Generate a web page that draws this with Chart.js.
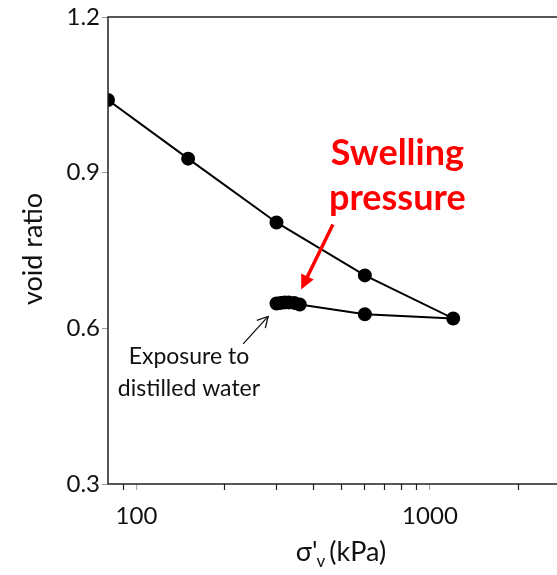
<!DOCTYPE html>
<html>
<head>
<meta charset="utf-8">
<script src="https://cdn.jsdelivr.net/npm/chart.js@4"></script>
<style>
  html, body { margin: 0; padding: 0; background: #fff; overflow: hidden; }
  #wrap { width: 582px; height: 575px; }
</style>
</head>
<body>
<div id="wrap"><canvas id="oedChart" width="582" height="575"></canvas></div>
<script>
// Datos (curva edometrica)
const stress = [80, 150, 300, 600, 1200, 600, 360, 345, 330, 320, 310, 300];
const voidRatio = [1.04, 0.927, 0.804, 0.702, 0.619, 0.627, 0.646, 0.649, 0.650, 0.650, 0.649, 0.648];
const xTicks = [90, 100, 200, 300, 400, 500, 600, 700, 800, 900, 1000, 2000, 3000];
const xLabels = [100, 1000];
const yTicks = [0.3, 0.6, 0.9, 1.2];

const FONT = 'Lato, "Open Sans", sans-serif';

// Marco, titulos y anotaciones
const decor = {
    id: 'decor',
    afterDraw(chart) {
        const c = chart.ctx;
        const a = chart.chartArea;
        const xs = chart.scales.x, ys = chart.scales.y;
        c.save();
        c.strokeStyle = '#222';
        c.lineWidth = 1.5;
        c.beginPath();
        c.moveTo(a.right, a.top);
        c.lineTo(a.left, a.top);
        c.lineTo(a.left, a.bottom);
        c.lineTo(a.right, a.bottom);
        c.stroke();

        // titulo eje y
        c.fillStyle = '#111';
        c.font = '27px ' + FONT;
        c.textAlign = 'center';
        c.textBaseline = 'middle';
        c.save();
        c.translate(33, 249);
        c.rotate(-Math.PI / 2);
        c.fillText('void ratio', 0, 0);
        c.restore();

        // titulo eje x con subindice
        const tx = 341, ty = 552;
        c.textAlign = 'left';
        const p1 = "\u03C3'", p2 = 'v', p3 = '(kPa)';
        c.font = '27px ' + FONT;
        const w1 = c.measureText(p1).width;
        c.font = '17px ' + FONT;
        const w2 = c.measureText(p2).width;
        c.font = '27px ' + FONT;
        const w3 = c.measureText(p3).width;
        let x0 = tx - (w1 + w2 + 3 + w3) / 2;
        c.fillText(p1, x0, ty);
        c.font = '17px ' + FONT;
        c.fillText(p2, x0 + w1 - 1, ty + 10);
        c.font = '27px ' + FONT;
        c.fillText(p3, x0 + w1 + w2 + 3, ty);

        // texto rojo
        c.fillStyle = '#ff0000';
        c.font = 'bold 36px ' + FONT;
        c.textAlign = 'center';
        c.fillText('Swelling', xs.getPixelForValue(774), ys.getPixelForValue(0.938));
        c.fillText('pressure', xs.getPixelForValue(774), ys.getPixelForValue(0.85));

        // flecha roja
        arrow(c, xs.getPixelForValue(467), ys.getPixelForValue(0.8),
              xs.getPixelForValue(364), ys.getPixelForValue(0.675), '#ff0000', 3.5, true);

        // texto negro
        c.fillStyle = '#111';
        c.font = '23px ' + FONT;
        c.fillText('Exposure to', xs.getPixelForValue(151), ys.getPixelForValue(0.545));
        c.fillText('distilled water', xs.getPixelForValue(151), ys.getPixelForValue(0.484));

        arrow(c, xs.getPixelForValue(231), ys.getPixelForValue(0.57),
              xs.getPixelForValue(281), ys.getPixelForValue(0.623), '#111', 1.3, false);
        c.restore();
    }
};

function arrow(c, x1, y1, x2, y2, col, lw, filled) {
    const ang = Math.atan2(y2 - y1, x2 - x1);
    c.save();
    c.strokeStyle = col;
    c.fillStyle = col;
    c.lineWidth = lw;
    const hl = filled ? 16 : 12;
    const hw = filled ? 0.45 : 0.5;
    c.beginPath();
    c.moveTo(x1, y1);
    c.lineTo(filled ? x2 - Math.cos(ang) * hl * 0.8 : x2, filled ? y2 - Math.sin(ang) * hl * 0.8 : y2);
    c.stroke();
    c.beginPath();
    c.moveTo(x2 - hl * Math.cos(ang - hw), y2 - hl * Math.sin(ang - hw));
    c.lineTo(x2, y2);
    c.lineTo(x2 - hl * Math.cos(ang + hw), y2 - hl * Math.sin(ang + hw));
    if (filled) { c.closePath(); c.fill(); } else { c.stroke(); }
    c.restore();
}

const ctx = document.getElementById('oedChart').getContext('2d');
new Chart(ctx, {
    type: 'scatter',
    data: {
        datasets: [{
            data: stress.map((s, i) => ({ x: s, y: voidRatio[i] })),
            showLine: true,
            borderColor: '#000',
            backgroundColor: '#000',
            borderWidth: 2,
            pointRadius: 6,
            pointHoverRadius: 6,
            tension: 0
        }]
    },
    options: {
        responsive: false,
        animation: false,
        layout: { padding: { top: 17, right: 8, left: 0, bottom: 0 } },
        plugins: { legend: { display: false }, tooltip: { enabled: false } },
        scales: {
            x: {
                type: 'logarithmic',
                min: 80,
                max: 3000,
                afterBuildTicks: (s) => { s.ticks = xTicks.map(v => ({ value: v })); },
                afterFit: (s) => { s.height = 91; },
                ticks: {
                    autoSkip: false,
                    maxRotation: 0,
                    padding: 12,
                    color: '#111',
                    font: { family: FONT, size: 24 },
                    callback: (v) => xLabels.includes(v) ? String(v) : ''
                },
                grid: {
                    drawOnChartArea: false,
                    tickLength: 6,
                    tickWidth: 1.2,
                    tickColor: (c) => xLabels.includes(c.tick && c.tick.value) ? '#aaa' : '#222'
                },
                border: { display: false }
            },
            y: {
                min: 0.3,
                max: 1.2,
                afterBuildTicks: (s) => { s.ticks = yTicks.map(v => ({ value: v })); },
                afterFit: (s) => { s.width = 108; },
                ticks: {
                    padding: 2,
                    color: '#111',
                    font: { family: FONT, size: 24 },
                    callback: (v) => v.toFixed(1)
                },
                grid: {
                    drawOnChartArea: false,
                    tickLength: 6,
                    tickColor: '#999'
                },
                border: { display: false }
            }
        }
    },
    plugins: [decor]
});
</script>
</body>
</html>
